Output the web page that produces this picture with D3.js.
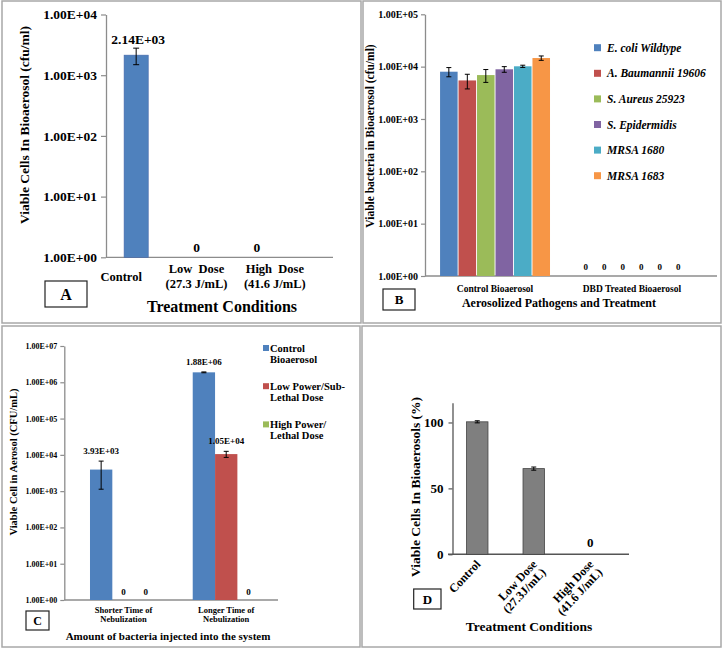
<!DOCTYPE html>
<html>
<head>
<meta charset="utf-8">
<script src="https://cdn.jsdelivr.net/npm/d3@7"></script>
<style>
  body { margin: 0; background: #fff; }
  svg { display: block; font-family: "Liberation Serif", "Times New Roman", serif; font-weight: bold; }
</style>
</head>
<body>
<div id="chart"></div>
<script>
// ===== data =====
// A: log bar chart, treatment conditions
const aCategories = ["Control", "Low  Dose\n(27.3 J/mL)", "High  Dose\n(41.6 J/mL)"];
const aValues = [2140, 0, 0];
const aErrors = [650, 0, 0];
const aTicks = [1, 10, 100, 1000, 10000];

// B: pathogens, control vs DBD treated
const bGroups = ["Control Bioaerosol", "DBD Treated Bioaerosol"];
const bSeries = ["E. coli Wildtype", "A. Baumannii 19606", "S. Aureus 25923", "S. Epidermidis", "MRSA 1680", "MRSA 1683"];
const bControl = [8000, 5450, 6900, 8900, 10150, 14600];
const bControlErr = [1600, 1700, 1900, 1100, 500, 1400];
const bTreated = [0, 0, 0, 0, 0, 0];
const bTicks = [1, 10, 100, 1000, 10000, 100000];

// C: nebulization time vs dose
const cGroups = ["Shorter Time of\nNebulization", "Longer Time of\nNebulization"];
const cSeries = ["Control\nBioaerosol", "Low Power/Sub-\nLethal Dose", "High Power/\nLethal Dose"];
const cShorter = [3930, 0, 0];
const cShorterErr = [2800, 0, 0];
const cLonger = [1880000, 10500, 0];
const cLongerErr = [50000, 2000, 0];
const cTicks = [1, 10, 100, 1000, 10000, 100000, 1000000, 10000000];

// D: percent viable
const dCategories = ["Control", "Low Dose\n(27.3J/mL)", "High Dose\n(41.6 J/mL)"];
const dValues = [100.5, 65, 0];
const dErrors = [0.8, 1.2, 0];
const dTicks = [0, 50, 100];

const xlBlue = "#4f81bd", xlRed = "#c0504d", xlGreen = "#9bbb59",
      xlPurple = "#8064a2", xlAqua = "#4bacc6", xlOrange = "#f79646";
const bColors = [xlBlue, xlRed, xlGreen, xlPurple, xlAqua, xlOrange];
const cColors = [xlBlue, xlRed, xlGreen];

// ===== helpers =====
const expFmt = d => "1.00E+" + String(Math.round(Math.log10(d))).padStart(2, "0");
const sciFmt = v => {
  if (v === 0) return "0";
  const e = Math.floor(Math.log10(v));
  return (v / 10 ** e).toFixed(2) + "E+" + String(e).padStart(2, "0");
};

const svg = d3.select("#chart").append("svg").attr("width", 724).attr("height", 650);

// panel frames
[[2, 1, 359, 322], [363, 1, 358, 322], [2, 326, 358, 321], [362, 326, 359, 321]].forEach(f => {
  svg.append("rect").attr("x", f[0]).attr("y", f[1]).attr("width", f[2]).attr("height", f[3])
    .attr("fill", "none").attr("stroke", "#a8a8a8").attr("stroke-width", 1.5);
});

function styleAxis(sel, fs, color) {
  sel.attr("font-family", null).attr("font-size", fs);
  sel.select(".domain").attr("stroke", color).attr("stroke-width", 1.3);
  sel.selectAll(".tick line").attr("stroke", color).attr("stroke-width", 1.2);
  sel.selectAll(".tick text").attr("fill", "#000");
}

function errBar(g, cx, yTop, yBot, cap) {
  g.append("line").attr("x1", cx).attr("x2", cx).attr("y1", yTop).attr("y2", yBot)
    .attr("stroke", "#000").attr("stroke-width", 1);
  [yTop, yBot].forEach(yy => g.append("line")
    .attr("x1", cx - cap / 2).attr("x2", cx + cap / 2).attr("y1", yy).attr("y2", yy)
    .attr("stroke", "#000").attr("stroke-width", 1));
}

function multiLine(g, str, x, y, fs, lh, anchor = "middle") {
  const lines = str.split("\n");
  const t = g.append("text").attr("x", x).attr("y", y).attr("font-size", fs).attr("text-anchor", anchor);
  lines.forEach((l, i) => t.append("tspan").attr("x", x).attr("dy", i === 0 ? 0 : lh).text(l));
  return t;
}

function letterBox(x, y, w, h, letter, fs) {
  svg.append("rect").attr("x", x).attr("y", y).attr("width", w).attr("height", h)
    .attr("fill", "#fff").attr("stroke", "#222").attr("stroke-width", 1.2);
  svg.append("text").attr("x", x + w / 2).attr("y", y + h / 2).attr("dy", "0.35em")
    .attr("text-anchor", "middle").attr("font-size", fs).text(letter);
}

function yTitle(x, y, str, fs) {
  svg.append("text").attr("transform", `translate(${x},${y}) rotate(-90)`)
    .attr("text-anchor", "middle").attr("dy", "0.35em").attr("font-size", fs).text(str);
}

// ===== Panel A =====
{
  const g = svg.append("g");
  const y = d3.scaleLog().domain([1, 1e4]).range([257.3, 14.5]);
  const x = d3.scaleBand().domain(aCategories).range([106, 287]).paddingInner(0.6).paddingOuter(0.3);

  g.append("g").attr("transform", "translate(106,0)")
    .call(d3.axisLeft(y).tickValues(aTicks).tickFormat(expFmt).tickSize(5).tickSizeOuter(0).tickPadding(4))
    .call(s => styleAxis(s, 13.5, "#8c8c8c"));
  g.append("line").attr("x1", 106).attr("x2", 333).attr("y1", y(1)).attr("y2", y(1))
    .attr("stroke", "#8c8c8c").attr("stroke-width", 1.3);

  aCategories.forEach((c, i) => {
    const cx = x(c) + x.bandwidth() / 2;
    const v = aValues[i];
    if (v > 0) {
      g.append("rect").attr("x", x(c)).attr("y", y(v)).attr("width", x.bandwidth())
        .attr("height", y(1) - y(v)).attr("fill", xlBlue).attr("stroke", "#46a").attr("stroke-width", 0.6);
      const yTop = y(v + aErrors[i]);
      errBar(g, cx, yTop, y(v - aErrors[i]), 6);
      g.append("text").attr("x", cx + 2).attr("y", yTop - 4.5).attr("text-anchor", "middle")
        .attr("font-size", 13.5).text(sciFmt(v));
    } else {
      g.append("text").attr("x", cx).attr("y", y(1) - 5).attr("text-anchor", "middle")
        .attr("font-size", 13.5).text("0");
    }
    const n = c.split("\n").length;
    const shift = [-15, 0, 18][i];
    multiLine(g, c, cx + shift, 280.5 - (n - 1) * 7.5, 12.5, 15).attr("xml:space", "preserve");
  });

  yTitle(24, 125, "Viable Cells In Bioaerosol (cfu/ml)", 13.5);
  svg.append("text").attr("x", 222).attr("y", 312).attr("text-anchor", "middle")
    .attr("font-size", 16).text("Treatment Conditions");
  letterBox(45, 281, 42, 26, "A", 16);
}

// ===== Panel B =====
{
  const g = svg.append("g");
  const y = d3.scaleLog().domain([1, 1e5]).range([276, 14.3]);
  const x0 = d3.scaleBand().domain(bGroups).range([425, 702]).paddingInner(0.197).paddingOuter(0.11);
  const x1 = d3.scaleBand().domain(bSeries).range([0, x0.bandwidth()]).paddingInner(0.05);

  g.append("g").attr("transform", "translate(425,0)")
    .call(d3.axisLeft(y).tickValues(bTicks).tickFormat(expFmt).tickSize(4).tickSizeOuter(0).tickPadding(3))
    .call(s => styleAxis(s, 10, "#8c8c8c"));
  g.append("line").attr("x1", 425).attr("x2", 717).attr("y1", y(1)).attr("y2", y(1))
    .attr("stroke", "#8c8c8c").attr("stroke-width", 1.3);

  const groupData = [bControl, bTreated];
  const groupErr = [bControlErr, bTreated];
  bGroups.forEach((grp, gi) => {
    bSeries.forEach((s, si) => {
      const v = groupData[gi][si];
      const bx = x0(grp) + x1(s);
      const cx = bx + x1.bandwidth() / 2;
      if (v > 0) {
        g.append("rect").attr("x", bx).attr("y", y(v)).attr("width", x1.bandwidth())
          .attr("height", y(1) - y(v)).attr("fill", bColors[si]);
        const e = groupErr[gi][si];
        errBar(g, cx, y(v + e), y(v - e), 5);
      } else {
        g.append("text").attr("x", cx).attr("y", y(1) - 6).attr("text-anchor", "middle")
          .attr("font-size", 9).attr("fill", "#000").text("0");
      }
    });
    g.append("text").attr("x", x0(grp) + x0.bandwidth() / 2).attr("y", 291.5)
      .attr("text-anchor", "middle").attr("font-size", 9.5).text(grp);
  });

  // legend
  const leg = g.append("g").attr("transform", "translate(594,47.7)");
  bSeries.forEach((s, i) => {
    leg.append("rect").attr("x", 0).attr("y", i * 25.6 - 3.5).attr("width", 7).attr("height", 7)
      .attr("fill", bColors[i]);
    leg.append("text").attr("x", 13).attr("y", i * 25.6).attr("dy", "0.35em")
      .attr("font-size", 11.5).attr("font-style", "italic").text(s);
  });

  yTitle(370, 136, "Viable bacteria in Bioaerosol (cfu/ml)", 11.5);
  svg.append("text").attr("x", 559).attr("y", 307).attr("text-anchor", "middle")
    .attr("font-size", 12).text("Aerosolized Pathogens and Treatment");
  letterBox(383, 289, 32, 21, "B", 13);
}

// ===== Panel C =====
{
  const g = svg.append("g");
  const y = d3.scaleLog().domain([1, 1e7]).range([600, 346]);
  const x0 = d3.scaleBand().domain(cGroups).range([64, 285.7]).paddingInner(0.348).paddingOuter(0.253);
  const x1 = d3.scaleBand().domain(cSeries).range([0, x0.bandwidth()]);

  g.append("g").attr("transform", "translate(64.3,0)")
    .call(d3.axisLeft(y).tickValues(cTicks).tickFormat(expFmt).tickSize(4).tickSizeOuter(0).tickPadding(3))
    .call(s => styleAxis(s, 8, "#8c8c8c"));
  g.append("line").attr("x1", 64.3).attr("x2", 278).attr("y1", y(1)).attr("y2", y(1))
    .attr("stroke", "#8c8c8c").attr("stroke-width", 1.3);

  const groupData = [cShorter, cLonger];
  const groupErr = [cShorterErr, cLongerErr];
  cGroups.forEach((grp, gi) => {
    cSeries.forEach((s, si) => {
      const v = groupData[gi][si];
      const bx = x0(grp) + x1(s);
      const cx = bx + x1.bandwidth() / 2;
      if (v > 0) {
        g.append("rect").attr("x", bx).attr("y", y(v)).attr("width", x1.bandwidth())
          .attr("height", y(1) - y(v)).attr("fill", cColors[si]);
        const e = groupErr[gi][si];
        const yTop = y(v + e);
        errBar(g, cx, yTop, y(v - e), 5);
        g.append("text").attr("x", cx).attr("y", yTop - 7).attr("text-anchor", "middle")
          .attr("font-size", 9).text(sciFmt(v));
      } else {
        g.append("text").attr("x", cx).attr("y", y(1) - 5).attr("text-anchor", "middle")
          .attr("font-size", 9).text("0");
      }
    });
    multiLine(g, grp, x0(grp) + x0.bandwidth() / 2, 612.5, 8.5, 9);
  });

  // legend
  cSeries.forEach((s, i) => {
    const ly = 348 + i * 38.2;
    g.append("rect").attr("x", 263).attr("y", ly - 3).attr("width", 6).attr("height", 6)
      .attr("fill", cColors[i]);
    multiLine(g, s, 270, ly + 3.5, 10.5, 11.3, "start");
  });

  yTitle(13, 462, "Viable Cell in Aerosol (CFU/mL)", 10.5);
  svg.append("text").attr("x", 168).attr("y", 640).attr("text-anchor", "middle")
    .attr("font-size", 11).text("Amount of bacteria injected into the system");
  letterBox(26, 611, 23, 19, "C", 12);
}

// ===== Panel D =====
{
  const g = svg.append("g");
  const y = d3.scaleLinear().domain([0, 115]).range([554.3, 402.7]);
  const x = d3.scaleBand().domain(dCategories).range([449, 618.5]).paddingInner(0.62).paddingOuter(0.31);

  g.append("g").attr("transform", "translate(452.5,0)")
    .call(d3.axisLeft(y).tickValues(dTicks).tickFormat(d3.format("d")).tickSize(4).tickSizeOuter(0).tickPadding(5))
    .call(s => styleAxis(s, 13, "#555"));
  g.append("line").attr("x1", 448).attr("x2", 629).attr("y1", y(0)).attr("y2", y(0))
    .attr("stroke", "#555").attr("stroke-width", 1.5);

  dCategories.forEach((c, i) => {
    const cx = x(c) + x.bandwidth() / 2;
    const v = dValues[i];
    if (v > 0) {
      g.append("rect").attr("x", x(c)).attr("y", y(v)).attr("width", x.bandwidth())
        .attr("height", y(0) - y(v)).attr("fill", "#7f7f7f").attr("stroke", "#444").attr("stroke-width", 0.8);
      errBar(g, cx, y(v + dErrors[i]), y(v - dErrors[i]), 5);
    } else {
      g.append("text").attr("x", cx).attr("y", y(0) - 7).attr("text-anchor", "middle")
        .attr("font-size", 13).text("0");
    }
    const lab = g.append("g").attr("transform", `translate(${cx + 1},${562}) rotate(-47)`);
    c.split("\n").forEach((l, li) => {
      lab.append("text").attr("x", 0).attr("y", 4 + li * 12).attr("text-anchor", "end")
        .attr("font-size", 12).text(l);
    });
  });

  yTitle(415, 487, "Viable Cells In Bioaerosols (%)", 13.5);
  svg.append("text").attr("x", 529).attr("y", 631).attr("text-anchor", "middle")
    .attr("font-size", 13.5).text("Treatment Conditions");
  letterBox(413.7, 589, 27.3, 20, "D", 13);
}
</script>
</body>
</html>
